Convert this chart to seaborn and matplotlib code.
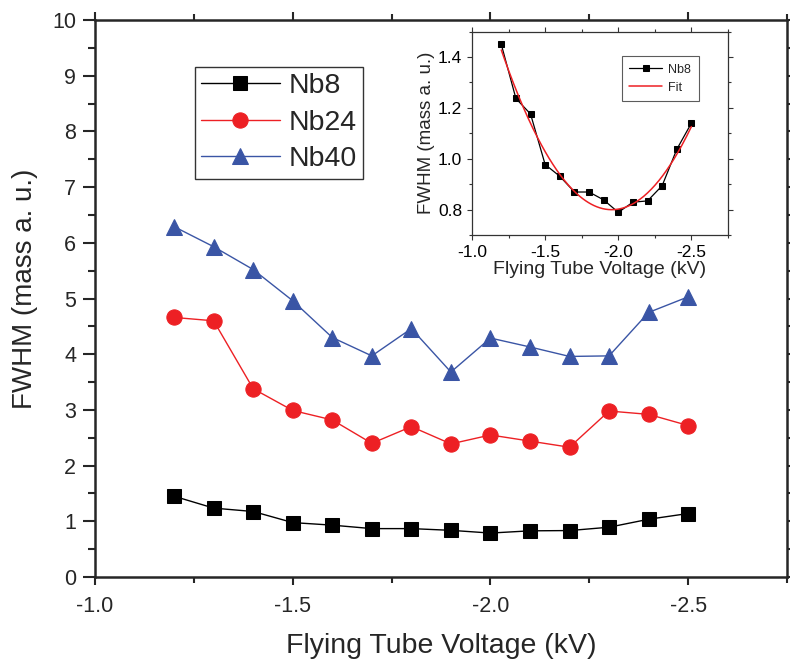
import numpy as np
import pandas as pd
import matplotlib
matplotlib.use("Agg")
import matplotlib.pyplot as plt
from matplotlib.ticker import MultipleLocator, FormatStrFormatter
import seaborn as sns

sns.set_style("ticks")
plt.rcParams['font.family'] = ['Liberation Sans', 'DejaVu Sans']

voltage = [-1.2, -1.3, -1.4, -1.5, -1.6, -1.7, -1.8, -1.9, -2.0, -2.1, -2.2, -2.3, -2.4, -2.5]
nb8 = [1.45, 1.237, 1.176, 0.977, 0.931, 0.869, 0.869, 0.838, 0.789, 0.829, 0.834, 0.894, 1.037, 1.140]
nb24 = [4.66, 4.60, 3.38, 2.99, 2.82, 2.40, 2.70, 2.39, 2.55, 2.44, 2.33, 2.98, 2.92, 2.72]
nb40 = [6.29, 5.93, 5.52, 4.96, 4.30, 3.97, 4.46, 3.68, 4.29, 4.13, 3.96, 3.97, 4.75, 5.03]

series_names = ["Nb8", "Nb24", "Nb40"]
colors = ["#000000", "#ED2024", "#3A55A5"]
markers = ["s", "o", "^"]
msizes = [10, 11, 12]

df = pd.DataFrame({"voltage": voltage, "Nb8": nb8, "Nb24": nb24, "Nb40": nb40})

fig = plt.figure(figsize=(7.9, 6.63), dpi=100)
ax = fig.add_axes([0.1203, 0.1297, 0.8759, 0.8401])

for name, c, m, ms in zip(series_names, colors, markers, msizes):
    sns.lineplot(data=df, x="voltage", y=name, ax=ax, color=c, marker=m,
                 markersize=ms, markeredgecolor=c, linewidth=1.0, label=name)

ax.set_xlim(-1.0, -2.75)
ax.set_ylim(0, 10)
ax.xaxis.set_major_locator(MultipleLocator(0.5))
ax.xaxis.set_minor_locator(MultipleLocator(0.25))
ax.yaxis.set_major_locator(MultipleLocator(1))
ax.yaxis.set_minor_locator(MultipleLocator(0.5))
ax.xaxis.set_major_formatter(FormatStrFormatter('%.1f'))
ax.tick_params(which='both', direction='out', top=True, right=True, width=1.5, labelsize=15.5)
ax.tick_params(axis='y', which='major', length=8.5, pad=5)
ax.tick_params(axis='y', which='minor', length=5)
ax.tick_params(axis='x', which='major', length=6, pad=8)
ax.tick_params(axis='x', which='minor', length=4)
for s in ax.spines.values():
    s.set_linewidth(1.8)
ax.set_xlabel("Flying Tube Voltage (kV)", fontsize=20.5, labelpad=11)
ax.set_ylabel("FWHM (mass a. u.)", fontsize=20)
ax.yaxis.set_label_coords(-0.082, 0.517)

leg = ax.legend(loc='upper left', bbox_to_anchor=(0.1445, 0.9156), borderaxespad=0,
                fontsize=20.5, frameon=True, fancybox=False, edgecolor='black',
                handlelength=2.75, handletextpad=0.3, labelspacing=0.37, borderpad=0.22)
leg.get_frame().set_linewidth(1.0)

# inset
ins = fig.add_axes([0.5975, 0.6456, 0.324, 0.3067])
sns.lineplot(x=voltage, y=nb8, ax=ins, color='black', marker='s', markersize=4.5,
             markeredgecolor='black', linewidth=0.9, label='Nb8')
coef = np.polyfit(voltage, nb8, 2)
xf = np.linspace(voltage[0], voltage[-1], 200)
sns.lineplot(x=xf, y=np.polyval(coef, xf), ax=ins, color='#ED2024', linewidth=1.1, label='Fit')
ins.set_xlim(-1.0, -2.75)
ins.set_ylim(0.7, 1.5)
ins.xaxis.set_major_locator(MultipleLocator(0.5))
ins.xaxis.set_minor_locator(MultipleLocator(0.25))
ins.yaxis.set_major_locator(MultipleLocator(0.2))
ins.yaxis.set_minor_locator(MultipleLocator(0.1))
ins.xaxis.set_major_formatter(FormatStrFormatter('%.1f'))
ins.yaxis.set_major_formatter(FormatStrFormatter('%.1f'))
ins.tick_params(which='both', direction='out', top=True, right=True, width=0.8,
                labelsize=12.5, colors='#333333', labelcolor='black')
ins.tick_params(which='major', length=3.5)
ins.tick_params(which='minor', length=2.5)
for s in ins.spines.values():
    s.set_linewidth(0.9)
    s.set_color('#333333')
ins.set_xlabel("Flying Tube Voltage (kV)", fontsize=14, labelpad=1)
ins.set_ylabel("FWHM (mass a. u.)", fontsize=13.5, labelpad=2)
ileg = ins.legend(loc='upper right', bbox_to_anchor=(0.885, 0.88), borderaxespad=0,
                  fontsize=9, frameon=True, fancybox=False, edgecolor='#333333',
                  handlelength=2.6, handletextpad=0.5, labelspacing=0.5, borderpad=0.6)
ileg.get_frame().set_linewidth(0.8)

fig.savefig("out.png", dpi=100)
